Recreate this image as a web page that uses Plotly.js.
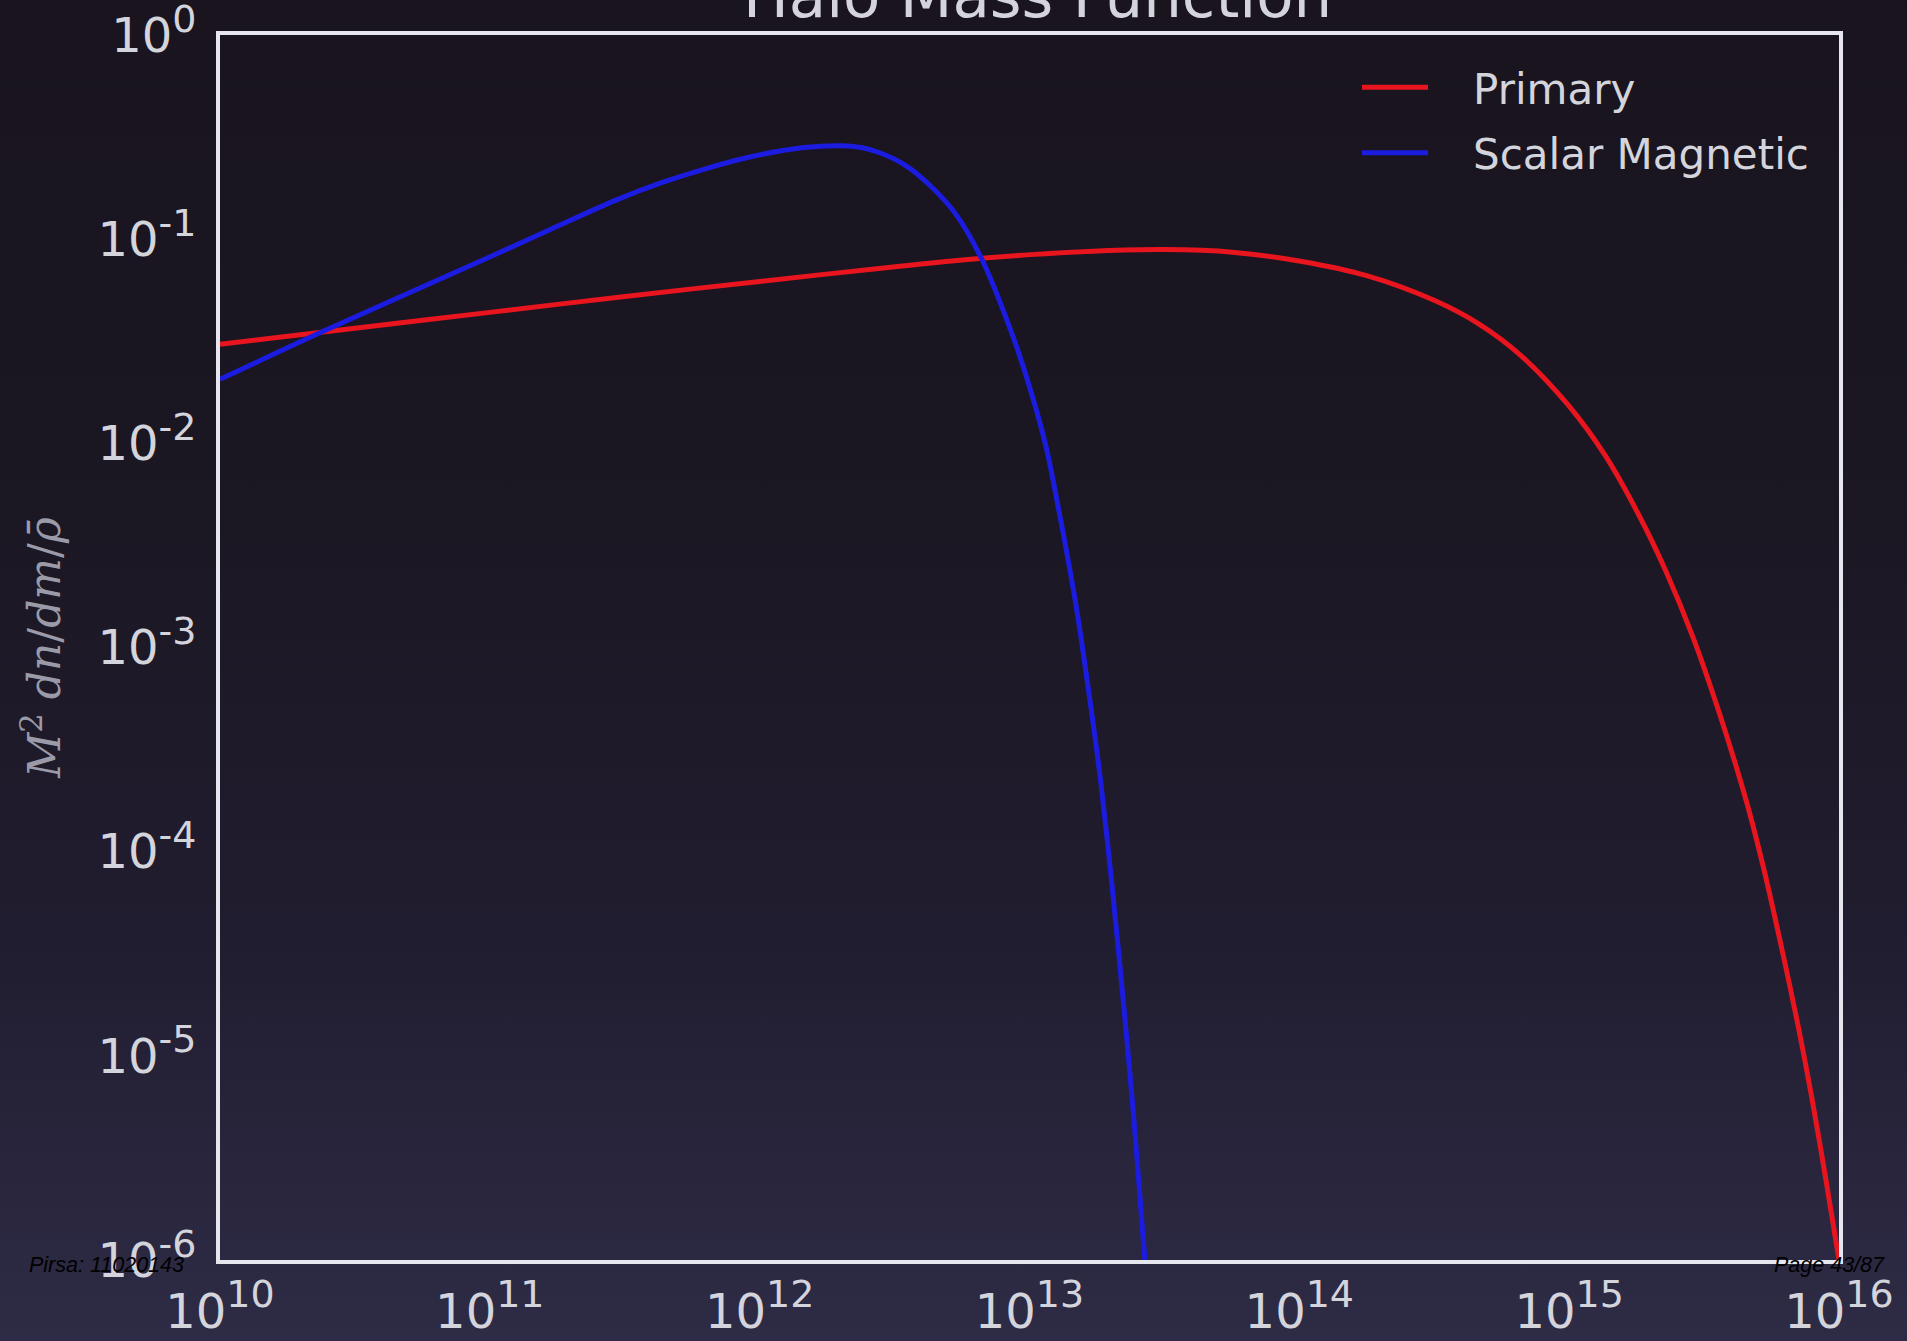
<!DOCTYPE html>
<html>
<head>
<meta charset="utf-8">
<script src="https://cdn.plot.ly/plotly-3.0.1.min.js"></script>
<style>
  html, body {
    margin: 0; padding: 0; width: 1907px; height: 1341px; overflow: hidden;
    background: linear-gradient(to bottom, #19141e 0%, #1b1723 40%, #211d30 70%, #2e2b46 100%);
  }
  #chart { width: 1907px; height: 1341px; }
</style>
</head>
<body>
<div id="chart"></div>
<script>
// Halo mass (solar masses) and M^2 dn/dm / rho-bar for each model
const primaryMass = [1.00e10, 3.16e10, 1.00e11, 3.17e11, 1.00e12, 3.18e12, 5.62e12, 1.01e13, 1.80e13,
                     3.18e13, 5.64e13, 1.01e14, 1.79e14, 3.19e14, 4.59e14, 6.61e14, 9.91e14, 1.365e15,
                     1.83e15, 2.30e15, 2.88e15, 3.62e15, 4.55e15, 5.32e15, 6.15e15, 7.05e15, 7.89e15,
                     8.85e15, 1.00e16];
const primaryValue = [0.0306, 0.0366, 0.0438, 0.0524, 0.0621, 0.0733, 0.0791, 0.0840, 0.0875,
                      0.0889, 0.0863, 0.0780, 0.0661, 0.0499, 0.0387, 0.0270, 0.01542, 0.00865,
                      0.004345, 0.002312, 0.001119, 4.68e-4, 1.74e-4, 7.76e-5, 3.31e-5, 1.41e-5, 6.46e-6,
                      2.69e-6, 1.0e-6];

const magneticMass = [1.00e10, 2.39e10, 9.42e10, 1.667e11, 2.95e11, 4.38e11, 6.30e11, 9.53e11, 1.459e12,
                      1.991e12, 2.377e12, 2.805e12, 3.49e12, 4.30e12, 5.28e12, 6.58e12, 8.69e12, 1.009e13,
                      1.153e13, 1.303e13, 1.493e13, 1.690e13, 1.837e13, 2.018e13, 2.239e13, 2.432e13,
                      2.642e13, 2.679e13];
const magneticValue = [0.02058, 0.03516, 0.0790, 0.1113, 0.1558, 0.1901, 0.2211, 0.2553, 0.2810,
                       0.2869, 0.2810, 0.2642, 0.2288, 0.1822, 0.1349, 0.0823, 0.03327, 0.0182,
                       0.00955, 0.004246, 0.00156, 5.06e-4, 2.19e-4, 7.01e-5, 1.71e-5, 5.04e-6,
                       1.24e-6, 1.0e-6];

// Axis ticks: mantissa "10" plus exponent
const massTicks = [1e10, 1e11, 1e12, 1e13, 1e14, 1e15, 1e16];
const massExponents = ['10', '11', '12', '13', '14', '15', '16'];
const densityTicks = [1, 1e-1, 1e-2, 1e-3, 1e-4, 1e-5, 1e-6];
const densityExponents = ['0', '-1', '-2', '-3', '-4', '-5', '-6'];

const seriesNames = ['Primary', 'Scalar Magnetic'];
const seriesColors = ['#e8141e', '#1c1ce0'];

const W = 1907, H = 1341;
const margin = { l: 220, r: 68, t: 35, b: 81 };
const plotW = W - margin.l - margin.r;
const plotH = H - margin.t - margin.b;
const px = (x) => (x - margin.l) / plotW;   // page x pixel -> paper x

const textColor = '#d4d4dc';
const frameColor = '#e6e6ee';
const legendPad = '\u00a0\u00a0\u00a0';    // gap between legend swatch and label

// power-of-ten label with a larger exponent than the default <sup> size
const powerLabel = (e) => '10<sup><span style="font-size:38px">' + e + '</span></sup>';

const traces = [
  {
    x: primaryMass, y: primaryValue, name: legendPad + seriesNames[0], type: 'scatter', mode: 'lines',
    line: { color: seriesColors[0], width: 5, shape: 'spline', smoothing: 0.9, simplify: false },
    legendgroup: 'a'
  },
  {
    x: magneticMass, y: magneticValue, name: legendPad + seriesNames[1], type: 'scatter', mode: 'lines',
    line: { color: seriesColors[1], width: 5, shape: 'spline', smoothing: 0.9, simplify: false },
    legendgroup: 'b'
  }
];

const axisCommon = {
  type: 'log',
  showgrid: false,
  zeroline: false,
  showline: true,
  mirror: true,
  linecolor: frameColor,
  linewidth: 4,
  ticks: '',
  tickmode: 'array',
  automargin: false,
  ticklabeloverflow: 'allow',
  tickfont: { family: 'DejaVu Sans', size: 48, color: textColor }
};

const layout = {
  width: W, height: H,
  margin: margin,
  paper_bgcolor: 'rgba(0,0,0,0)',
  plot_bgcolor: 'rgba(0,0,0,0)',
  showlegend: true,
  title: {
    text: 'Halo Mass Function',
    font: { family: 'DejaVu Sans', size: 61, color: textColor },
    xref: 'paper', x: 0.505, xanchor: 'center',
    yref: 'container', y: 1 - 17 / H, yanchor: 'bottom'
  },
  xaxis: Object.assign({}, axisCommon, {
    range: [10, 16],
    tickvals: massTicks,
    ticktext: massExponents.map(powerLabel),
    ticklabelstandoff: 6
  }),
  yaxis: Object.assign({}, axisCommon, {
    range: [-6, 0],
    tickvals: densityTicks,
    ticktext: densityExponents.map(powerLabel),
    ticklabelstandoff: 10,
    title: {
      text: '<i>M</i><sup>2</sup> <i>dn</i>/<i>dm</i>/<i>ρ̄</i>',
      font: { family: 'DejaVu Serif', size: 44, color: '#9a9aa8' },
      standoff: 24
    }
  }),
  legend: {
    x: px(1357), xanchor: 'left',
    y: 0.985, yanchor: 'top',
    bgcolor: 'rgba(0,0,0,0)',
    borderwidth: 0,
    font: { family: 'DejaVu Sans', size: 42, color: textColor },
    itemwidth: 66,
    traceorder: 'grouped',
    tracegroupgap: 8
  },
  annotations: [
    {
      text: '<i>Pirsa: 11020143</i>', showarrow: false,
      xref: 'paper', yref: 'paper', x: px(27), xanchor: 'left',
      y: -5 / plotH, yanchor: 'middle',
      font: { family: 'Liberation Sans', size: 21.5, color: '#000000' }
    },
    {
      text: '<i>Page 43/87</i>', showarrow: false,
      xref: 'paper', yref: 'paper', x: px(1887), xanchor: 'right',
      y: -5 / plotH, yanchor: 'middle',
      font: { family: 'Liberation Sans', size: 21.5, color: '#000000' }
    }
  ]
};

Plotly.newPlot('chart', traces, layout, { displayModeBar: false, staticPlot: true });
</script>
</body>
</html>
